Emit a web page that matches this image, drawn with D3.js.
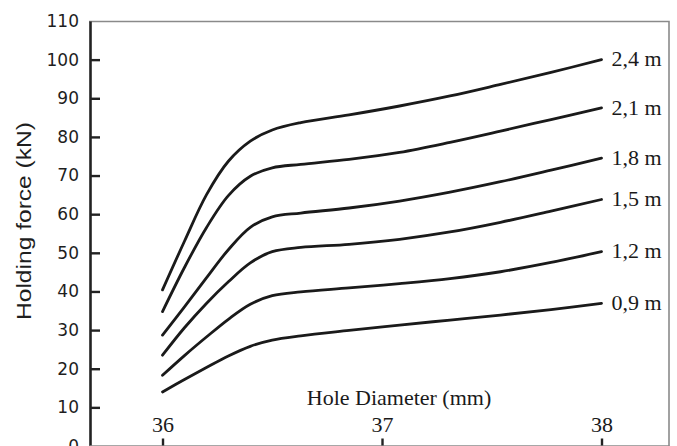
<!DOCTYPE html>
<html>
<head>
<meta charset="utf-8">
<script src="https://cdn.jsdelivr.net/npm/d3@7"></script>
<style>
  html, body { margin: 0; padding: 0; background: #fff; }
  svg { display: block; }
  .serif { font-family: "Liberation Serif", "Times New Roman", serif; fill: #1a1a1a; }
</style>
</head>
<body>
<div id="chart"></div>
<script>
// hole diameter (mm) at which each curve was read
const diameters = [36, 36.1, 36.2, 36.3, 36.4, 36.5, 36.63, 36.85, 37.08, 37.31, 37.54, 37.77, 38];

// holding force (kN), one array per embedment length
const f24 = [40.4, 53.0, 65.0, 73.7, 78.9, 81.8, 83.7, 85.7, 88.0, 90.6, 93.6, 96.7, 100];
const f21 = [34.8, 46.2, 56.5, 64.8, 69.8, 72.0, 72.9, 74.2, 76.0, 78.6, 81.5, 84.5, 87.5];
const f18 = [28.7, 36.0, 43.5, 50.8, 56.6, 59.3, 60.3, 61.6, 63.4, 65.7, 68.4, 71.4, 74.5];
const f15 = [23.5, 30.6, 36.9, 42.5, 47.4, 50.3, 51.4, 52.2, 53.5, 55.4, 57.9, 60.8, 63.8];
const f12 = [18.3, 23.4, 28.2, 32.8, 36.7, 38.9, 39.9, 40.9, 42.0, 43.3, 45.1, 47.5, 50.3];
const f09 = [14.0, 17.2, 20.3, 23.3, 25.8, 27.4, 28.5, 29.9, 31.3, 32.6, 33.9, 35.3, 36.9];

const seriesLabels = ["2,4 m", "2,1 m", "1,8 m", "1,5 m", "1,2 m", "0,9 m"];
const seriesValues = [f24, f21, f18, f15, f12, f09];

const yTicks = [0, 10, 20, 30, 40, 50, 60, 70, 80, 90, 100, 110];
const xTicks = [36, 37, 38];

const W = 677, H = 446;
const margins = { left: 89, right: 669, top: 21, bottom: 446 };

const svg = d3.select("#chart").append("svg")
    .attr("width", W)
    .attr("height", H);

const x = d3.scaleLinear()
    .domain([35.6651, 38.3075])
    .range([margins.left, margins.right]);

const y = d3.scaleLinear()
    .domain([0, 110])
    .range([margins.bottom, margins.top]);

// grey frame: top and right
svg.append("path")
    .attr("d", "M" + margins.left + "," + (margins.top + 0.5) + "H" + margins.right + "V" + H)
    .attr("fill", "none")
    .attr("stroke", "#8a8a8a")
    .attr("stroke-width", 1.6);

// y axis, ticks pointing in
const yAxis = svg.append("g")
    .attr("transform", "translate(" + (margins.left + 1) + ",0)")
    .call(d3.axisLeft(y)
        .tickValues(yTicks)
        .tickSizeInner(-10)
        .tickSizeOuter(0)
        .tickPadding(11));

yAxis.select(".domain").attr("stroke", "#222").attr("stroke-width", 2.6);
yAxis.selectAll(".tick line")
    .attr("stroke", "#222")
    .attr("stroke-width", 2.4)
    .attr("opacity", d => d === 110 || d === 0 ? 0 : 1);
yAxis.selectAll(".tick text")
    .attr("fill", "#1e1e1e")
    .style("font-family", "'DejaVu Sans', Verdana, sans-serif")
    .style("font-size", "17px");

// x axis sits on the bottom edge, ticks and labels point up
const xAxis = svg.append("g")
    .attr("transform", "translate(0," + (margins.bottom - 0.5) + ")")
    .call(d3.axisTop(x)
        .tickValues(xTicks)
        .tickFormat(d3.format("d"))
        .tickSizeInner(7)
        .tickSizeOuter(0)
        .tickPadding(6.5));

xAxis.select(".domain").attr("stroke", "#8a8a8a").attr("stroke-width", 1.5);
xAxis.selectAll(".tick line").attr("stroke", "#222").attr("stroke-width", 2.4);
xAxis.selectAll(".tick text")
    .attr("class", "serif")
    .style("font-size", "22px");

// axis titles
svg.append("text")
    .attr("class", "serif")
    .attr("x", 399)
    .attr("y", 405)
    .attr("text-anchor", "middle")
    .style("font-size", "22px")
    .text("Hole Diameter (mm)");

svg.append("text")
    .attr("transform", "translate(31,221) rotate(-90)")
    .attr("text-anchor", "middle")
    .attr("fill", "#1e1e1e")
    .attr("textLength", 198)
    .attr("lengthAdjust", "spacingAndGlyphs")
    .style("font-family", "'Liberation Sans', Arial, sans-serif")
    .style("font-size", "20px")
    .text("Holding force (kN)");

// curves
const line = d3.line()
    .x((d, i) => x(diameters[i]))
    .y(d => y(d))
    .curve(d3.curveCatmullRom.alpha(0.5));

const serie = svg.selectAll(".serie")
    .data(seriesValues)
  .enter().append("g")
    .attr("class", "serie");

serie.append("path")
    .attr("d", line)
    .attr("fill", "none")
    .attr("stroke", "#1a1a1a")
    .attr("stroke-width", 2.8)
    .attr("stroke-linecap", "round")
    .attr("stroke-linejoin", "round");

serie.append("text")
    .attr("class", "serif")
    .attr("x", d => x(diameters[diameters.length - 1]) + 10)
    .attr("y", d => y(d[d.length - 1]))
    .attr("dy", "0.3em")
    .style("font-size", "22px")
    .text((d, i) => seriesLabels[i]);
</script>
</body>
</html>
